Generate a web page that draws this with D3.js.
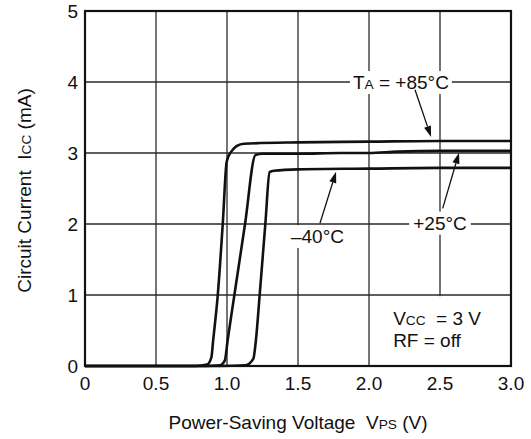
<!DOCTYPE html>
<html><head><meta charset="utf-8">
<script src="https://cdn.jsdelivr.net/npm/d3@7"></script>
<style>
html,body{margin:0;padding:0;background:#fff;}
svg{display:block;font-family:"Liberation Sans",Arial,Helvetica,sans-serif;}
</style></head>
<body><svg id="c" width="531" height="439"></svg>
<script>
// ---- data ----
const xTicks = [0, 0.5, 1.0, 1.5, 2.0, 2.5, 3.0];
const xTickLabels = ["0", "0.5", "1.0", "1.5", "2.0", "2.5", "3.0"];
const yTicks = [0, 1, 2, 3, 4, 5];
const yTickLabels = ["0", "1", "2", "3", "4", "5"];

const vps85 = [0, 0.78, 0.86, 0.89, 0.903, 0.935, 0.97, 0.998, 1.03, 1.07, 1.12, 1.5, 2.0, 2.5, 3.0];
const icc85 = [0, 0, 0.02, 0.12, 0.37, 1.0, 2.0, 2.88, 3.02, 3.1, 3.13, 3.15, 3.16, 3.17, 3.17];

const vps25 = [0, 0.85, 0.95, 0.985, 1.005, 1.052, 1.127, 1.2, 1.25, 1.5, 1.8, 2.0, 2.2, 2.5, 3.0];
const icc25 = [0, 0, 0.01, 0.08, 0.37, 1.0, 2.0, 2.97, 2.99, 2.99, 3.0, 3.0, 3.02, 3.03, 3.03];

const vpsM40 = [0, 0.95, 1.13, 1.185, 1.204, 1.23, 1.27, 1.30, 1.33, 1.5, 2.0, 2.5, 3.0];
const iccM40 = [0, 0, 0.01, 0.1, 0.37, 1.0, 2.0, 2.73, 2.75, 2.77, 2.78, 2.79, 2.79];

const seriesNames = ["+85", "+25", "-40"];

// ---- layout ----
const svg = d3.select("#c");
const x = d3.scaleLinear().domain([0, 3]).range([85, 511]);
const y = d3.scaleLinear().domain([0, 5]).range([366, 11]);
const FS = 19;

// grid
const grid = svg.append("g");
grid.selectAll("line.v").data(xTicks).enter().append("line")
  .attr("x1", d => x(d)).attr("x2", d => x(d))
  .attr("y1", y(0)).attr("y2", y(5))
  .attr("stroke", "#2a2a2a").attr("stroke-width", 1.3);
grid.selectAll("line.h").data(yTicks).enter().append("line")
  .attr("x1", x(0)).attr("x2", x(3))
  .attr("y1", d => y(d)).attr("y2", d => y(d))
  .attr("stroke", "#2a2a2a").attr("stroke-width", 1.3);

// white box behind the condition note
svg.append("rect").attr("fill", "#fff").attr("x", x(2.0) + 1.5).attr("y", y(1) + 1.2)
  .attr("width", x(3) - x(2.0) - 2.5).attr("height", y(0) - y(1) - 2);

// frame
svg.append("rect").attr("x", x(0)).attr("y", y(5))
  .attr("width", x(3) - x(0)).attr("height", y(0) - y(5))
  .attr("fill", "none").attr("stroke", "#111").attr("stroke-width", 2.2);

// axes tick labels
svg.append("g").selectAll("text").data(xTicks).enter().append("text")
  .attr("x", d => x(d)).attr("y", y(0) + 24)
  .attr("text-anchor", "middle").attr("font-size", FS).attr("fill", "#111")
  .text((d, i) => xTickLabels[i]);
svg.append("g").selectAll("text").data(yTicks).enter().append("text")
  .attr("x", x(0) - 7).attr("y", d => y(d) + 7)
  .attr("text-anchor", "end").attr("font-size", FS).attr("fill", "#111")
  .text((d, i) => yTickLabels[i]);

// axis titles
const xt = svg.append("text").attr("x", (x(0) + x(3)) / 2).attr("y", 429)
  .attr("text-anchor", "middle").attr("font-size", FS).attr("fill", "#111")
  .attr("xml:space", "preserve");
xt.append("tspan").text("Power-Saving Voltage  V");
xt.append("tspan").attr("font-size", FS * 0.72).text("PS");
xt.append("tspan").text(" (V)");

const yt = svg.append("text")
  .attr("transform", `translate(31,${(y(0) + y(5)) / 2 + 2}) rotate(-90)`)
  .attr("text-anchor", "middle").attr("font-size", FS).attr("fill", "#111")
  .attr("xml:space", "preserve");
yt.append("tspan").text("Circuit Current  I");
yt.append("tspan").attr("font-size", FS * 0.72).text("CC");
yt.append("tspan").text(" (mA)");

// curves
const curves = [
  {v: vps85, i: icc85},
  {v: vps25, i: icc25},
  {v: vpsM40, i: iccM40}
];
const line = d3.line().x(d => x(d[0])).y(d => y(d[1])).curve(d3.curveMonotoneX);
svg.append("g").selectAll("path").data(curves).enter().append("path")
  .attr("d", c => line(c.v.map((v, k) => [v, c.i[k]])))
  .attr("fill", "none").attr("stroke", "#111").attr("stroke-width", 2.6)
  .attr("stroke-linejoin", "round");

// annotation labels (data coordinates)
const labels = [
  {cx: 2.225, cy: 4.0, parts: [["T", 1], ["A", 0.72], [" = +85°C", 1]], pad: 3, topClip: null},
  {cx: 2.5, cy: 2.02, parts: [["+25°C", 1]], pad: 4, topClip: null},
  {cx: 1.637, cy: 1.83, parts: [["\u201340°C", 1]], pad: 2, topClip: 2}
];
const arrows = [
  {from: [2.324, 3.89], to: [2.437, 3.225]},
  {from: [2.519, 2.22], to: [2.634, 3.005]},
  {from: [1.655, 2.01], to: [1.768, 2.735]}
];

const lg = svg.append("g");
labels.forEach(l => {
  const t = lg.append("text").attr("x", x(l.cx)).attr("y", y(l.cy) + 7)
    .attr("text-anchor", "middle").attr("font-size", FS).attr("fill", "#111")
    .attr("xml:space", "preserve");
  l.parts.forEach(p => t.append("tspan").attr("font-size", FS * p[1]).text(p[0]));
  const bb = t.node().getBBox();
  let top = bb.y - 1, bottom = bb.y + bb.height + 1;
  if (l.topClip !== null) top = Math.max(top, y(l.topClip) + 1.2);
  lg.insert("rect", "text").attr("x", bb.x - l.pad).attr("y", top)
    .attr("width", bb.width + 2 * l.pad).attr("height", bottom - top)
    .attr("fill", "#fff");
});

// arrows
const ag = svg.append("g");
arrows.forEach(a => {
  const x1 = x(a.from[0]), y1 = y(a.from[1]), x2 = x(a.to[0]), y2 = y(a.to[1]);
  const ang = Math.atan2(y2 - y1, x2 - x1);
  const L = 11, W = 3.6;
  const bx = x2 - L * Math.cos(ang), by = y2 - L * Math.sin(ang);
  ag.append("line").attr("x1", x1).attr("y1", y1).attr("x2", bx).attr("y2", by)
    .attr("stroke", "#111").attr("stroke-width", 1.3);
  const px = -Math.sin(ang) * W, py = Math.cos(ang) * W;
  ag.append("path")
    .attr("d", `M${x2},${y2}L${bx + px},${by + py}L${bx - px},${by - py}Z`)
    .attr("fill", "#111");
});

// condition note
const note = svg.append("text").attr("x", x(2.17)).attr("y", y(0.58))
  .attr("font-size", FS).attr("fill", "#111").attr("xml:space", "preserve");
note.append("tspan").text("V");
note.append("tspan").attr("font-size", FS * 0.72).text("CC");
note.append("tspan").text("  = 3 V");
svg.append("text").attr("x", x(2.17)).attr("y", y(0.27))
  .attr("font-size", FS).attr("fill", "#111").text("RF = off");
</script></body></html>
